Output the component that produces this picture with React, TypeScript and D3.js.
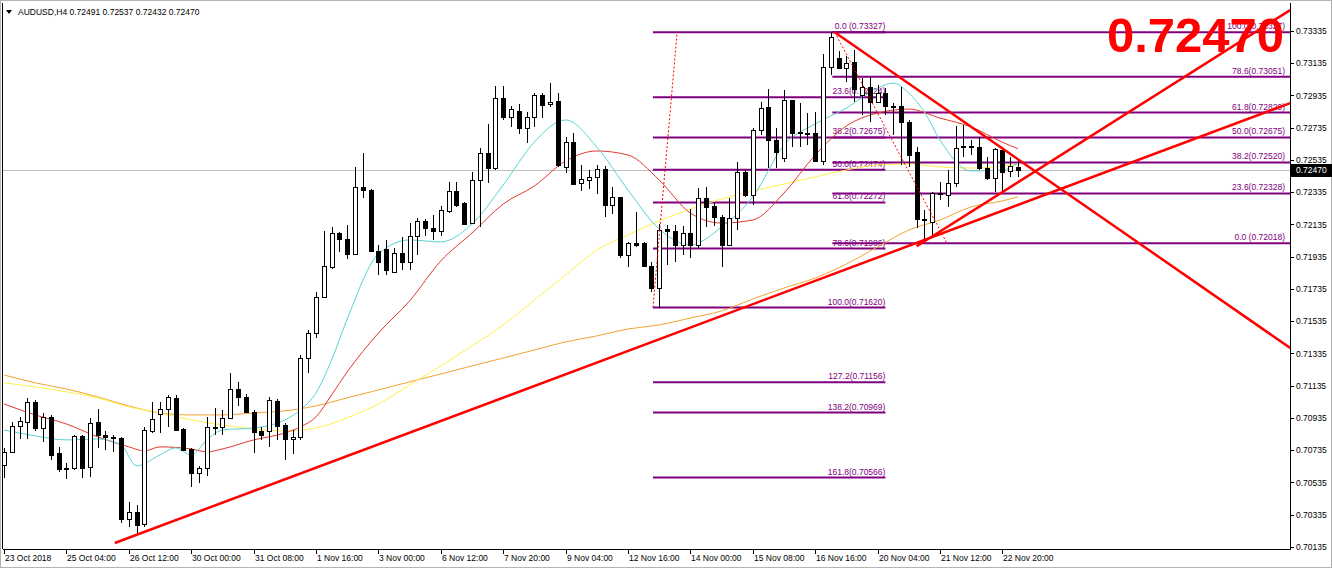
import React from 'react';
import * as d3 from 'd3';

// ---- Candle data (AUDUSD H4), bar index 0..130 ----
const opens = [0.70644,0.70725,0.70886,0.70911,0.71035,0.70873,0.70942,0.70718,0.70625,0.70625,0.70824,0.70632,0.70911,0.70830,0.70818,0.70811,0.70309,0.70353,0.70278,0.70855,0.70960,0.70991,0.71059,0.70867,0.70743,0.70594,0.70625,0.70880,0.70880,0.70935,0.71115,0.71066,0.70973,0.70855,0.70855,0.71041,0.70892,0.70805,0.70818,0.71307,0.71462,0.71686,0.71872,0.72082,0.72045,0.71952,0.72368,0.72349,0.71971,0.71983,0.71841,0.71958,0.71903,0.72064,0.72157,0.72113,0.72095,0.72219,0.72343,0.72268,0.72144,0.72411,0.72578,0.72485,0.72919,0.72802,0.72839,0.72733,0.72802,0.72938,0.72882,0.72901,0.72492,0.72647,0.72392,0.72411,0.72430,0.72479,0.72256,0.72306,0.71946,0.72020,0.72020,0.71878,0.71741,0.72107,0.72095,0.72008,0.72082,0.72008,0.72299,0.72250,0.72182,0.72008,0.72175,0.72461,0.72318,0.72721,0.72864,0.72659,0.72547,0.72907,0.72709,0.72702,0.72702,0.72529,0.73112,0.73167,0.73105,0.73143,0.72938,0.72988,0.72895,0.72950,0.72870,0.72870,0.72771,0.72585,0.72169,0.72151,0.72330,0.72318,0.72392,0.72622,0.72622,0.72616,0.72485,0.72423,0.72597,0.72461,0.72491];
const highs = [0.70750,0.70911,0.70944,0.71059,0.71047,0.70966,0.70954,0.70756,0.70656,0.70830,0.70830,0.70935,0.70991,0.70855,0.70830,0.70818,0.70417,0.70396,0.70882,0.71037,0.71037,0.71078,0.71078,0.70873,0.70750,0.70638,0.70942,0.70997,0.70985,0.71214,0.71159,0.71084,0.70985,0.70880,0.71066,0.71053,0.70904,0.70861,0.71326,0.71481,0.71717,0.72095,0.72122,0.72091,0.72132,0.72494,0.72578,0.72355,0.72008,0.72039,0.71989,0.72060,0.72144,0.72175,0.72169,0.72194,0.72250,0.72399,0.72401,0.72275,0.72463,0.72609,0.72758,0.72994,0.72994,0.72870,0.72882,0.72835,0.72952,0.72952,0.73014,0.72952,0.72680,0.72704,0.72504,0.72473,0.72504,0.72498,0.72370,0.72307,0.72029,0.72215,0.72029,0.71905,0.72138,0.72132,0.72132,0.72126,0.72231,0.72361,0.72368,0.72268,0.72194,0.72299,0.72523,0.72473,0.72733,0.72895,0.72975,0.72733,0.72969,0.72910,0.72888,0.72826,0.72833,0.73192,0.73327,0.73211,0.73180,0.73217,0.73043,0.73050,0.73000,0.72981,0.72888,0.72988,0.72783,0.72616,0.72225,0.72337,0.72399,0.72473,0.72746,0.72752,0.72659,0.72678,0.72554,0.72609,0.72600,0.72554,0.72537];
const lows = [0.70564,0.70715,0.70805,0.70805,0.70855,0.70789,0.70675,0.70601,0.70557,0.70613,0.70564,0.70570,0.70750,0.70737,0.70725,0.70284,0.70262,0.70210,0.70262,0.70842,0.70842,0.70880,0.70855,0.70731,0.70508,0.70532,0.70576,0.70830,0.70830,0.70929,0.71010,0.70966,0.70718,0.70799,0.70756,0.70799,0.70675,0.70712,0.70799,0.71214,0.71431,0.71680,0.71859,0.71967,0.71921,0.71946,0.72299,0.71967,0.71822,0.71822,0.71834,0.71853,0.71853,0.71946,0.72064,0.72039,0.72064,0.72208,0.72246,0.72132,0.72138,0.72122,0.72392,0.72473,0.72783,0.72740,0.72696,0.72642,0.72742,0.72795,0.72866,0.72494,0.72456,0.72380,0.72345,0.72355,0.72324,0.72184,0.72200,0.71927,0.71872,0.71998,0.71872,0.71717,0.71620,0.71884,0.71903,0.71946,0.71927,0.71989,0.72120,0.72126,0.71872,0.72002,0.72101,0.72306,0.72256,0.72690,0.72485,0.72485,0.72523,0.72616,0.72616,0.72628,0.72523,0.72504,0.73062,0.73099,0.73019,0.72895,0.72814,0.72771,0.72888,0.72814,0.72690,0.72504,0.72492,0.72113,0.72030,0.72070,0.72287,0.72244,0.72368,0.72554,0.72566,0.72473,0.72411,0.72337,0.72343,0.72430,0.72432];
const closes = [0.70725,0.70886,0.70917,0.71035,0.70873,0.70942,0.70706,0.70619,0.70619,0.70824,0.70625,0.70904,0.70830,0.70818,0.70811,0.70309,0.70353,0.70272,0.70861,0.70929,0.70991,0.71066,0.70861,0.70737,0.70594,0.70625,0.70880,0.70873,0.70935,0.71115,0.71066,0.70973,0.70849,0.70830,0.71047,0.70886,0.70805,0.70818,0.71307,0.71462,0.71686,0.71878,0.72082,0.72045,0.71952,0.72368,0.72349,0.71971,0.71903,0.71853,0.71958,0.71903,0.72064,0.72157,0.72113,0.72095,0.72225,0.72343,0.72256,0.72138,0.72411,0.72578,0.72485,0.72919,0.72802,0.72851,0.72733,0.72802,0.72938,0.72876,0.72895,0.72504,0.72647,0.72386,0.72417,0.72430,0.72479,0.72256,0.72306,0.71946,0.72020,0.72008,0.71878,0.71741,0.72101,0.72095,0.72008,0.72082,0.72008,0.72299,0.72244,0.72182,0.72008,0.72175,0.72461,0.72318,0.72721,0.72857,0.72659,0.72585,0.72907,0.72702,0.72702,0.72696,0.72529,0.73112,0.73298,0.73105,0.73136,0.72975,0.72988,0.72895,0.72950,0.72870,0.72864,0.72771,0.72566,0.72169,0.72163,0.72330,0.72324,0.72392,0.72609,0.72616,0.72616,0.72485,0.72423,0.72603,0.72461,0.72495,0.72470];

// ---- Moving averages (at sample bars) ----
const cyanBars = [0,4,8,12,15,17,20,22,24,26,28,32,36,38,40,42,44,48,52,56,60,64,68,72,76,80,84,88,92,96,100,104,108,112,114,116,118,120,124,128,130];
const cyanVals = [0.70861,0.70824,0.70799,0.70805,0.70768,0.70638,0.70706,0.70749,0.70706,0.70799,0.70861,0.70873,0.70923,0.70985,0.71091,0.71295,0.71549,0.71952,0.72039,0.72027,0.72138,0.72380,0.72647,0.72783,0.72616,0.72349,0.72107,0.72008,0.72120,0.72306,0.72628,0.72759,0.72857,0.72981,0.73012,0.72950,0.72833,0.72659,0.72467,0.72473,0.72516];
const redBars = [0,4,8,12,16,18,20,24,26,28,32,36,38,40,42,44,48,52,56,60,64,68,72,76,80,84,88,92,96,100,104,108,112,116,120,124,128,130];
const redVals = [0.71022,0.70954,0.70898,0.70818,0.70756,0.70731,0.70756,0.70743,0.70725,0.70743,0.70799,0.70842,0.70880,0.70942,0.71078,0.71221,0.71462,0.71661,0.71909,0.72082,0.72262,0.72374,0.72529,0.72591,0.72566,0.72411,0.72206,0.72144,0.72163,0.72330,0.72566,0.72746,0.72826,0.72851,0.72795,0.72740,0.72645,0.72605];
const yellowBars = [0,4,8,12,16,20,24,28,32,36,40,44,48,52,56,60,64,68,72,76,80,84,88,92,96,100,104,108,112,116,120,124,128,130];
const yellowVals = [0.71153,0.71128,0.71097,0.71060,0.71004,0.70966,0.70923,0.70892,0.70867,0.70855,0.70874,0.70936,0.71022,0.71140,0.71258,0.71382,0.71512,0.71667,0.71822,0.71977,0.72070,0.72157,0.72231,0.72293,0.72343,0.72386,0.72430,0.72473,0.72504,0.72510,0.72492,0.72485,0.72498,0.72510];
const orangeBars = [0,4,8,12,16,20,24,28,32,36,40,44,48,52,56,60,64,68,72,76,80,84,88,92,96,100,104,108,112,116,120,124,128,130];
const orangeVals = [0.71202,0.71153,0.71115,0.71066,0.71010,0.70966,0.70954,0.70954,0.70966,0.70979,0.71010,0.71060,0.71109,0.71159,0.71208,0.71258,0.71307,0.71357,0.71407,0.71444,0.71487,0.71512,0.71555,0.71599,0.71673,0.71741,0.71803,0.71890,0.71996,0.72101,0.72163,0.72244,0.72281,0.72306];

// ---- Axis labels ----
const timeLabelBars = [0,8,16,24,32,40,48,56,64,72,80,88,96,104,112,120,128];
const timeLabels = ['23 Oct 2018','25 Oct 04:00','26 Oct 12:00','30 Oct 00:00','31 Oct 08:00','1 Nov 16:00','3 Nov 00:00','6 Nov 12:00','7 Nov 20:00','9 Nov 04:00','12 Nov 16:00','14 Nov 00:00','15 Nov 08:00','16 Nov 16:00','20 Nov 04:00','21 Nov 12:00','22 Nov 20:00'];
const priceTicks = [0.73335,0.73135,0.72935,0.72735,0.72535,0.72335,0.72135,0.71935,0.71735,0.71535,0.71335,0.71135,0.70935,0.70735,0.70535,0.70335,0.70135];

// ---- Fibonacci objects ----
const fib1Levels = ['0.0','23.6','38.2','50.0','61.8','78.6','100.0','127.2','138.2','161.8'];
const fib1Prices = [0.73327,0.72924,0.72675,0.72474,0.72272,0.71986,0.71620,0.71156,0.70969,0.70566];
const fib1Span = [83.2, 113.0];
const fib1Anchor = [[83.2, 0.71620],[86.3, 0.73327]];
const fib2Levels = ['0.0','23.6','38.2','50.0','61.8','78.6','100.0'];
const fib2Prices = [0.72018,0.72328,0.72520,0.72675,0.72829,0.73051,0.73327];
const fib2Start = 106.2;
const fib2Anchor = [[106.5, 0.73327],[120.9, 0.72018]];

// ---- Trend lines [bar, price] pairs ----
const trendLines = [
  [[14.2, 0.70160],[164.9, 0.72888]],
  [[117.0, 0.72000],[164.9, 0.73465]],
  [[106.5, 0.73327],[164.9, 0.71369]],
];

const symbol = 'AUDUSD,H4';
const lastPrice = 0.72470;

export default function App() {
  const W = 1332, H = 571;
  const left = 3, right = 1290, top = 3, bottom = 549;
  const x = d3.scaleLinear().domain([0, 130]).range([4, 1018]);
  const y = d3.scaleLinear().domain([0.70135, 0.73335]).range([547, 31]);
  const font = 'Liberation Sans, Arial, sans-serif';
  const fmt = d3.format('.5f');

  const maLine = (bars: number[], vals: number[]) =>
    d3.line<number>().x((_, i) => x(bars[i])).y(v => y(v)).curve(d3.curveMonotoneX)(vals) || '';

  const candles = opens.map((o, i) => {
    const c = closes[i];
    const cx = Math.round(x(i)) + 0.5;
    const yo = y(o), yc = y(c);
    const yt = Math.round(Math.min(yo, yc)) + 0.5;
    let hgt = Math.round(Math.abs(yo - yc));
    if (hgt < 1) hgt = 1;
    const bull = c >= o;
    return (
      <g key={i}>
        <line x1={cx} x2={cx} y1={Math.round(y(highs[i]))} y2={Math.round(y(lows[i]))} stroke="#000" strokeWidth={1} />
        <rect x={cx - 2} y={yt} width={4} height={hgt} fill={bull ? '#fff' : '#000'} stroke="#000" strokeWidth={1} />
      </g>
    );
  });

  const fibLabel = (lvl: string, p: number) => (lvl === '0.0' ? `0.0 (${fmt(p)})` : `${lvl}(${fmt(p)})`);

  return (
    <svg width={W} height={H} style={{ position: 'fixed', left: 0, top: 0, background: '#fff' }} fontFamily={font}>
      <defs>
        <clipPath id="plot">
          <rect x={left} y={top} width={right - left} height={bottom - top} />
        </clipPath>
      </defs>
      <rect x={0} y={0} width={W} height={H} fill="#fff" />
      <rect x={0.5} y={0.5} width={W - 1} height={H - 4} fill="none" stroke="#b4b4b4" />
      <line x1={left - 0.5} x2={left - 0.5} y1={top} y2={bottom} stroke="#000" />
      <line x1={left} x2={right} y1={bottom + 0.5} y2={bottom + 0.5} stroke="#000" />
      <line x1={right + 0.5} x2={right + 0.5} y1={top} y2={bottom + 1} stroke="#000" />

      <g clipPath="url(#plot)">
        {/* current price line */}
        <line x1={left} x2={right} y1={Math.round(y(lastPrice)) + 0.5} y2={Math.round(y(lastPrice)) + 0.5} stroke="#c0c0c0" />

        {/* Fib 1 */}
        {fib1Prices.map((p, i) => (
          <g key={'f1' + i}>
            <line x1={x(fib1Span[0])} x2={x(fib1Span[1])} y1={y(p)} y2={y(p)} stroke="#800080" strokeWidth={2} />
            <text x={x(fib1Span[1])} y={y(p) - 3} textAnchor="end" fontSize={8.5} fill="#800080">{fibLabel(fib1Levels[i], p)}</text>
          </g>
        ))}
        {/* Fib 2 */}
        {fib2Prices.map((p, i) => (
          <g key={'f2' + i}>
            <line x1={x(fib2Start)} x2={right} y1={y(p)} y2={y(p)} stroke="#800080" strokeWidth={2} />
            <text x={right - 5} y={y(p) - 3} textAnchor="end" fontSize={8.5} fill="#800080">{fibLabel(fib2Levels[i], p)}</text>
          </g>
        ))}

        {/* moving averages */}
        <path d={maLine(orangeBars, orangeVals)} fill="none" stroke="#f2a431" strokeWidth={1} />
        <path d={maLine(yellowBars, yellowVals)} fill="none" stroke="#fff04a" strokeWidth={1} />
        <path d={maLine(redBars, redVals)} fill="none" stroke="#e3382e" strokeWidth={1} />
        <path d={maLine(cyanBars, cyanVals)} fill="none" stroke="#58d3d3" strokeWidth={1} />

        {candles}

        {/* fib anchor dotted lines */}
        {[fib1Anchor, fib2Anchor].map((a, i) => (
          <line key={'an' + i} x1={x(a[0][0])} y1={y(a[0][1])} x2={x(a[1][0])} y2={y(a[1][1])} stroke="#ff0000" strokeWidth={1} strokeDasharray="2,2" />
        ))}

        {/* trend lines */}
        {trendLines.map((t, i) => (
          <line key={'tl' + i} x1={x(t[0][0])} y1={y(t[0][1])} x2={x(t[1][0])} y2={y(t[1][1])} stroke="#ff0000" strokeWidth={2.5} />
        ))}
      </g>

      {/* header */}
      <path d="M6,10 L12,10 L9,14 Z" fill="#000" />
      <text x={18} y={15} fontSize={8.5} fill="#000">{`${symbol}  ${fmt(opens[130])} ${fmt(highs[130])} ${fmt(lows[130])} ${fmt(closes[130])}`}</text>

      {/* big price */}
      <text x={1284} y={52} textAnchor="end" fontSize={49} fontWeight="bold" fill="#ff0000">{fmt(lastPrice)}</text>

      {/* price axis */}
      {priceTicks.map((p, i) => (
        <g key={'pt' + i}>
          <line x1={right} x2={right + 4} y1={Math.round(y(p)) + 0.5} y2={Math.round(y(p)) + 0.5} stroke="#000" />
          <text x={right + 6} y={y(p) + 3} fontSize={8.5} fill="#000">{fmt(p)}</text>
        </g>
      ))}
      <rect x={right + 1} y={Math.round(y(lastPrice)) - 6} width={41} height={13} fill="#000" />
      <text x={right + 6} y={y(lastPrice) + 3} fontSize={8.5} fill="#fff">{fmt(lastPrice)}</text>

      {/* time axis */}
      {timeLabelBars.map((b, i) => (
        <g key={'tx' + i}>
          <line x1={Math.round(x(b)) + 0.5} x2={Math.round(x(b)) + 0.5} y1={bottom} y2={bottom + 5} stroke="#000" />
          <text x={Math.round(x(b)) + 1} y={561} fontSize={8.5} fill="#000">{timeLabels[i]}</text>
        </g>
      ))}
    </svg>
  );
}
